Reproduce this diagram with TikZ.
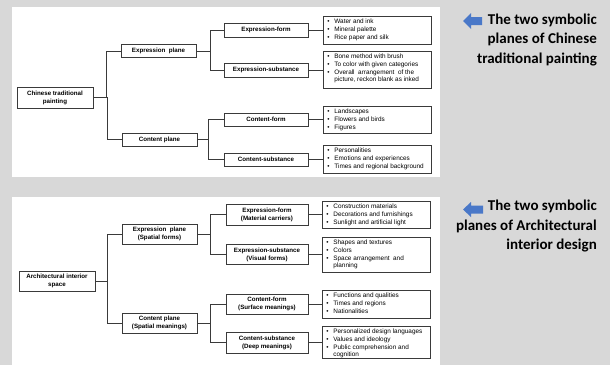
\documentclass[tikz,border=0pt]{standalone}
\usepackage{fontspec}
\setmainfont{Liberation Sans}
\newfontfamily\carlito{Carlito}
\definecolor{bg}{HTML}{D8D8D8}
\definecolor{edge}{HTML}{3A3A3A}
\definecolor{arrowblue}{HTML}{4A78C8}
\begin{document}
\begin{tikzpicture}[x=1pt,y=-1pt,
 box/.style={draw=edge,line width=0.6pt,fill=white,inner sep=0pt,align=center,font=\fontsize{6.2}{8}\selectfont\bfseries},
 lst/.style={draw=edge,line width=0.6pt,fill=white,inner sep=0pt},
 link/.style={draw=edge,line width=0.6pt},
 items/.style={anchor=north west,inner sep=0pt,font=\fontsize{6.4}{7.7}\selectfont,align=left},
 side/.style={anchor=east,inner sep=0pt,align=right,font=\carlito\bfseries\fontsize{15}{19.5}\selectfont},
 bluearrow/.style={fill=arrowblue,draw=none}]
\useasboundingbox (0,0) rectangle (610,365);
\fill[bg] (0,0) rectangle (610,365);
\fill[white] (12,7) rectangle (440,177);
\fill[white] (12,197) rectangle (440,365);

% ---------- top diagram ----------
\node[box,minimum width=76pt,minimum height=21pt] (r1) at (55,97.5) {Chinese traditional\\painting};
\node[box,minimum width=75pt,minimum height=12.5pt] (e1) at (158.5,51) {Expression\ \ plane};
\node[box,minimum width=75pt,minimum height=13pt] (c1) at (159.5,139.5) {Content plane};
\node[box,minimum width=84pt,minimum height=14pt] (ef1) at (266,30) {Expression-form};
\node[box,minimum width=84pt,minimum height=14pt] (es1) at (266,70) {Expression-substance};
\node[box,minimum width=84pt,minimum height=13pt] (cf1) at (266,119.5) {Content-form};
\node[box,minimum width=84pt,minimum height=13pt] (cs1) at (266,159.5) {Content-substance};
\node[lst,minimum width=108pt,minimum height=28pt] (L1) at (377,30) {};
\node[lst,minimum width=108pt,minimum height=37pt] (L2) at (377,69.5) {};
\node[lst,minimum width=108pt,minimum height=27pt] (L3) at (377,119.5) {};
\node[lst,minimum width=108pt,minimum height=28pt] (L4) at (377,159) {};

\draw[link] (e1.west) -- ++(-14,0) |- (r1.east);
\draw[link] (c1.west) -- ++(-14,0) |- (r1.east);
\draw[link] (ef1.west) -- ++(-13,0) |- (e1.east);
\draw[link] (es1.west) -- ++(-13,0) |- (e1.east);
\draw[link] (cf1.west) -- ++(-15,0) |- (c1.east);
\draw[link] (cs1.west) -- ++(-15,0) |- (c1.east);
\draw[link] (ef1.east) -- (L1.west |- ef1.east);
\draw[link] (es1.east) -- (L2.west |- es1.east);
\draw[link] (cf1.east) -- (L3.west |- cf1.east);
\draw[link] (cs1.east) -- (L4.west |- cs1.east);

\node[items] (t1) at ([xshift=4.5pt,yshift=-2.5pt]L1.north west) {\begin{tabular}{@{}p{7pt}@{}l@{}}
• & Water and ink\\ • & Mineral palette\\ • & Rice paper and silk\end{tabular}};
\node[items] (t2) at ([xshift=4.5pt,yshift=-2.5pt]L2.north west) {\begin{tabular}{@{}p{7pt}@{}l@{}}
• & Bone method with brush\\ • & To color with given categories\\ • & Overall \ arrangement \ of the\\ & picture, reckon blank as inked\end{tabular}};
\node[items] (t3) at ([xshift=4.5pt,yshift=-2.5pt]L3.north west) {\begin{tabular}{@{}p{7pt}@{}l@{}}
• & Landscapes\\ • & Flowers and birds\\ • & Figures\end{tabular}};
\node[items] (t4) at ([xshift=4.5pt,yshift=-2.5pt]L4.north west) {\begin{tabular}{@{}p{7pt}@{}l@{}}
• & Personalities\\ • & Emotions and experiences\\ • & Times and regional background\end{tabular}};

% ---------- bottom diagram ----------
\node[box,minimum width=76pt,minimum height=20pt] (r2) at (57,281) {Architectural interior\\space};
\node[box,minimum width=75pt,minimum height=20pt] (e2) at (159.5,234) {Expression\ \ plane\\(Spatial forms)};
\node[box,minimum width=75pt,minimum height=20pt] (c2) at (159.5,323) {Content plane\\(Spatial meanings)};
\node[box,minimum width=82pt,minimum height=21pt] (ef2) at (267,214.5) {Expression-form\\(Material carriers)};
\node[box,minimum width=82pt,minimum height=19.5pt] (es2) at (267,254.5) {Expression-substance\\(Visual forms)};
\node[box,minimum width=82pt,minimum height=20pt] (cf2) at (267,304) {Content-form\\(Surface meanings)};
\node[box,minimum width=82pt,minimum height=21pt] (cs2) at (267,342.5) {Content-substance\\(Deep meanings)};
\node[lst,minimum width=108pt,minimum height=27pt] (M1) at (376,214.5) {};
\node[lst,minimum width=108pt,minimum height=35pt] (M2) at (376,254.5) {};
\node[lst,minimum width=108pt,minimum height=28pt] (M3) at (376,304) {};
\node[lst,minimum width=108pt,minimum height=32pt] (M4) at (376,342) {};

\draw[link] (e2.west) -- ++(-14,0) |- (r2.east);
\draw[link] (c2.west) -- ++(-14,0) |- (r2.east);
\draw[link] (ef2.west) -- ++(-15,0) |- (e2.east);
\draw[link] (es2.west) -- ++(-15,0) |- (e2.east);
\draw[link] (cf2.west) -- ++(-15,0) |- (c2.east);
\draw[link] (cs2.west) -- ++(-15,0) |- (c2.east);
\draw[link] (ef2.east) -- (M1.west |- ef2.east);
\draw[link] (es2.east) -- (M2.west |- es2.east);
\draw[link] (cf2.east) -- (M3.west |- cf2.east);
\draw[link] (cs2.east) -- (M4.west |- cs2.east);

\node[items] (u1) at ([xshift=4.5pt,yshift=-2.5pt]M1.north west) {\begin{tabular}{@{}p{7pt}@{}l@{}}
• & Construction materials\\ • & Decorations and furnishings\\ • & Sunlight and artificial light\end{tabular}};
\node[items] (u2) at ([xshift=4.5pt,yshift=-2.5pt]M2.north west) {\begin{tabular}{@{}p{7pt}@{}l@{}}
• & Shapes and textures\\ • & Colors\\ • & Space arrangement \ and\\ & planning\end{tabular}};
\node[items] (u3) at ([xshift=4.5pt,yshift=-2.5pt]M3.north west) {\begin{tabular}{@{}p{7pt}@{}l@{}}
• & Functions and qualities\\ • & Times and regions\\ • & Nationalities\end{tabular}};
\node[items] (u4) at ([xshift=4.5pt,yshift=-2.5pt]M4.north west) {\begin{tabular}{@{}p{7pt}@{}l@{}}
• & Personalized design languages\\ • & Values and ideology\\ • & Public comprehension and\\ & cognition\end{tabular}};

% ---------- side captions ----------
\fill[bluearrow] (463,21) -- (471,13) -- (471,17) -- (482,17) -- (482,25) -- (471,25) -- (471,29) -- cycle;
\node[side] (s1) at (597,40) {The two symbolic\\planes of Chinese\\traditional painting};
\fill[bluearrow] (463,209.5) -- (471,202) -- (471,205.5) -- (483,205.5) -- (483,213.5) -- (471,213.5) -- (471,217) -- cycle;
\node[side] (s2) at (597,226.5) {The two symbolic\\planes of Architectural\\interior design};
\end{tikzpicture}
\end{document}
